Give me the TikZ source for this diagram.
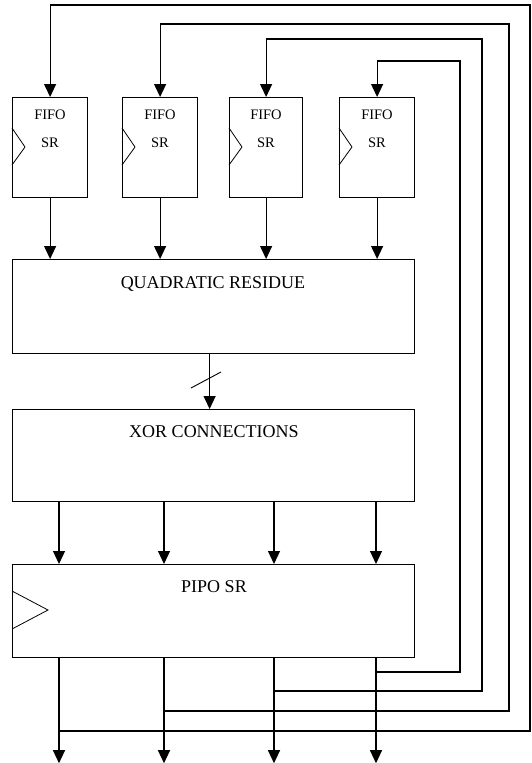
\documentclass[tikz,border=0pt]{standalone}
\usepackage{fontspec}
\setmainfont{Liberation Serif}
\usetikzlibrary{arrows.meta,calc}
\begin{document}
\begin{tikzpicture}[x=1pt,y=-1pt,
  blk/.style={draw,line width=1.2pt,rectangle,anchor=north west,inner sep=0pt},
  arr/.style={line width=1.2pt,-{Triangle[width=12pt,length=13pt]}},
  wire/.style={line width=1.2pt},
  clk/.style={line width=0.8pt},
  lbl/.style={font=\fontsize{18}{20}\selectfont,anchor=base,inner sep=0pt},
  slbl/.style={font=\fontsize{14.5}{16}\selectfont,anchor=base,inner sep=0pt}]
\useasboundingbox (0,0) rectangle (531,763);

% FIFO boxes
\node[blk,minimum width=75pt,minimum height=100pt] (f1) at (12,97) {};
\node[blk,minimum width=75pt,minimum height=100pt] (f2) at (122,97) {};
\node[blk,minimum width=73pt,minimum height=100pt] (f3) at (229,97) {};
\node[blk,minimum width=75pt,minimum height=100pt] (f4) at (339,97) {};
\foreach \i/\cx in {1/50,2/160,3/266,4/377}{
  \node[slbl] (fa\i) at (\cx,119) {FIFO};
  \node[slbl] (fb\i) at (\cx,147) {SR};
  \draw[clk] ($(f\i.north west)+(0,31)$) -- ($(f\i.north west)+(13,50)$) -- ($(f\i.north west)+(0,68)$);
}

% main blocks
\node[blk,minimum width=402pt,minimum height=94pt] (q) at (12,259) {};
\node[lbl] (qt) at (213,288) {QUADRATIC RESIDUE};
\node[blk,minimum width=402pt,minimum height=92pt] (x) at (12,409) {};
\node[lbl] (xt) at (214,437) {XOR CONNECTIONS};
\node[blk,minimum width=402pt,minimum height=93pt] (p) at (12,564) {};
\node[lbl] (pt) at (214,592) {PIPO SR};
\draw[clk] ($(p.north west)+(0,27)$) -- ($(p.north west)+(36,46)$) -- ($(p.north west)+(0,65)$);

% FIFO -> QR
\foreach \i in {1,2,3,4}
  \draw[arr] (f\i.south) -- (f\i.south |- q.north);

% QR -> XOR (bus)
\coordinate (qo) at ($(q.south)+(-4,0)$);
\coordinate (xi) at ($(x.north)+(-4,0)$);
\draw[arr] (qo) -- (xi);
\draw[line width=0.9pt] (191,388) -- (221,372);

% XOR -> PIPO
\foreach \d in {47,152,262,364}
  \draw[arr] ($(x.south west)+(\d,0)$) -- ($(p.north west)+(\d,0)$);

% outputs
\foreach \i/\d in {1/47,2/152,3/262,4/364}{
  \coordinate (po\i) at ($(p.south west)+(\d,0)$);
  \coordinate (o\i) at ($(p.south west)+(\d,105)$);
  \draw[arr] (po\i) -- (o\i);
}

% feedback
\coordinate (b1) at (po1 |- 0,731);
\coordinate (b2) at (po2 |- 0,711);
\coordinate (b3) at (po3 |- 0,691);
\coordinate (b4) at (po4 |- 0,672);
\coordinate (r1) at (530,5);
\coordinate (r2) at (509,24);
\coordinate (r3) at (482,39);
\coordinate (r4) at (460,61);
\foreach \i in {1,2,3,4}
  \draw[arr] (b\i) -| (r\i) -| (f\i.north);
\end{tikzpicture}
\end{document}
